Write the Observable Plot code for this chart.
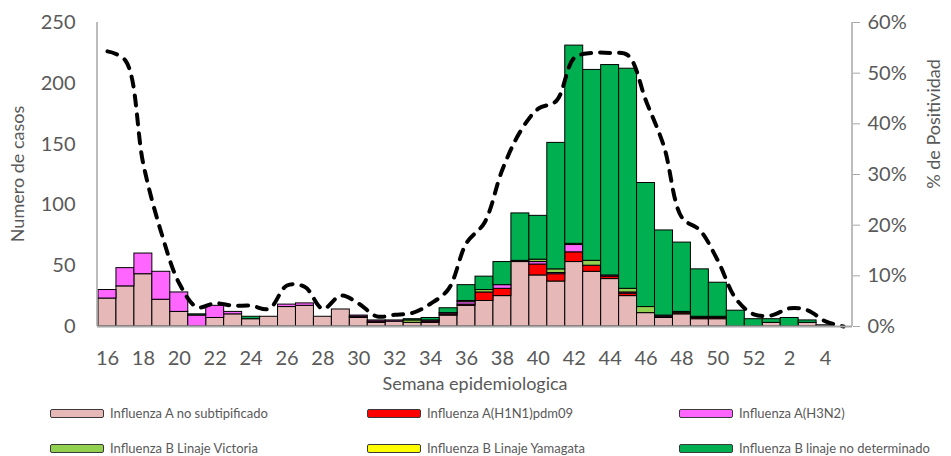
<!DOCTYPE html>
<html>
<head>
<meta charset="utf-8">
<script src="https://cdn.jsdelivr.net/npm/d3@7"></script>
<script src="https://cdn.jsdelivr.net/npm/@observablehq/plot@0.6"></script>
<style>
  body { margin: 0; background: #fff; }
  #wrap { position: relative; width: 951px; height: 456px; font-family: Lato, "Open Sans", sans-serif; }
  .leg { position: absolute; display: flex; align-items: center; font-family: "Liberation Sans Narrow", Lato, sans-serif; font-size: 13px; color: #595959; white-space: nowrap; }
  .sw { width: 52px; height: 7px; border: 1.5px solid #3a3a3a; border-radius: 2px; margin-right: 6px; }
</style>
</head>
<body>
<div id="wrap"></div>
<script>
const weeks = ["16","17","18","19","20","21","22","23","24","25","26","27","28","29","30","31","32","33","34","35","36","37","38","39","40","41","42","43","44","45","46","47","48","49","50","51","52","1","2","3","4","5"];
const xTickLabels = ["16","18","20","22","24","26","28","30","32","34","36","38","40","42","44","46","48","50","52","2","4"];
const yTicks = [0, 50, 100, 150, 200, 250];
const pctTicks = [0, 10, 20, 30, 40, 50, 60];

const seriesNames = ["Influenza A no subtipificado", "Influenza A(H1N1)pdm09", "Influenza A(H3N2)", "Influenza B Linaje Victoria", "Influenza B Linaje Yamagata", "Influenza B linaje no determinado"];
const seriesColors = ["#E6B9B8", "#FF0000", "#FF66FF", "#92D050", "#FFFF00", "#00B050"];

const aNoSubtip = [23,33,43,22,12,0,7,10,6,8,16,17,8,14,7,3,4,3,3,9,17,21,25,53,42,37,53,45,39,25,11,7,10,6,6,0,0,3,0,3,1,0];
const aH1N1     = [0,0,0,0,0,0,0,0,0,0,0,0,0,0,1,1,0,0,1,1,1,7,6,1,9,6,8,5,2,2,0,1,1,1,1,0,0,0,0,0,0,0];
const aH3N2     = [7,15,17,23,16,9,10,2,0,0,2,2,0,0,1,1,1,0,1,1,2,0,3,0,2,1,6,0,1,1,0,1,0,0,0,0,0,0,0,0,0,0];
const bVictoria = [0,0,0,0,0,0,0,0,0,0,0,0,0,0,0,0,0,2,0,0,1,2,0,0,2,3,1,4,0,3,5,0,1,1,1,0,0,0,0,0,0,0];
const bYamagata = [0,0,0,0,0,0,0,0,0,0,0,0,0,0,0,0,0,0,0,0,0,0,0,0,0,0,0,0,0,0,0,0,0,0,0,0,0,0,0,0,0,0];
const bNoDet    = [0,0,0,0,0,1,0,0,2,0,0,0,0,0,0,0,0,1,2,4,13,11,19,39,36,104,163,157,173,181,102,70,57,39,28,13,6,3,7,2,0,0];
const positividad = [54.3,52.5,32,18.5,8.5,3.8,4.6,4.1,4.1,3.5,8.1,7.8,3.5,6.1,4.5,2,2.3,2.7,4.5,7.4,16.5,20.5,31,38.5,43,44.5,53,54,54,53.5,44.5,35.5,21.5,19,13,5.5,2.4,2.2,3.6,3.2,1,0];

const seriesValues = [aNoSubtip, aH1N1, aH3N2, bVictoria, bYamagata, bNoDet];
const rows = [];
seriesNames.forEach((s, k) => weeks.forEach((w, i) => {
  if (seriesValues[k][i] > 0) rows.push({week: w, serie: s, value: seriesValues[k][i]});
}));
const lineData = weeks.map((w, i) => ({week: w, pct: positividad[i]}));
const yMax = 250, pMax = 60;
const toCases = p => p * yMax / pMax;

const chart = Plot.plot({
  width: 951, height: 395,
  marginLeft: 98, marginRight: 99, marginTop: 22, marginBottom: 69,
  style: {fontFamily: "Lato, 'Open Sans', sans-serif", fontSize: "20px", color: "#595959", background: "#fff"},
  x: {type: "band", domain: weeks, padding: 0},
  y: {domain: [0, yMax]},
  color: {domain: seriesNames, range: seriesColors},
  marks: [
    Plot.barY(rows, {x: "week", y: "value", fill: "serie", order: seriesNames, stroke: "#000", strokeWidth: 1}),
    Plot.line(lineData, {x: "week", y: d => toCases(d.pct), curve: "catmull-rom", stroke: "#000", strokeWidth: 4, strokeDasharray: "10,9", strokeLinecap: "round"}),
    Plot.axisX({ticks: xTickLabels, tickSize: 0, tickPadding: 24, label: null, fill: "#595959"}),
    Plot.axisY({anchor: "left", ticks: yTicks, tickSize: 0, tickPadding: 23, label: null, fill: "#595959"}),
    Plot.axisY({anchor: "right", ticks: pctTicks.map(toCases), tickFormat: d => Math.round(d * pMax / yMax) + "%", tickSize: 7, tickPadding: 8, stroke: "#A6A6A6", fill: "#595959", label: null})
  ]
});

const wrap = document.getElementById("wrap");
wrap.appendChild(chart);

const svg = d3.select(chart);
const ys = chart.scale("y"), xs = chart.scale("x");
const yTop = Math.min(...ys.range), yBot = Math.max(...ys.range);
const xLeft = Math.min(...xs.range), xRight = Math.max(...xs.range);
svg.append("line").attr("x1", xLeft - 1).attr("x2", xLeft - 1).attr("y1", yTop).attr("y2", yBot).attr("stroke", "#A6A6A6").attr("stroke-width", 1.5);
svg.append("line").attr("x1", xRight).attr("x2", xRight).attr("y1", yTop).attr("y2", yBot).attr("stroke", "#A6A6A6").attr("stroke-width", 1.5);
svg.append("line").attr("x1", xLeft - 1).attr("x2", xRight).attr("y1", yBot + 0.5).attr("y2", yBot + 0.5).attr("stroke", "#A6A6A6").attr("stroke-width", 2);

svg.append("text").attr("transform", `translate(19,${(yTop + yBot) / 2}) rotate(-90)`).attr("text-anchor", "middle").attr("dominant-baseline", "middle").attr("fill", "#595959").style("font-size", "18px").text("Numero de casos");
svg.append("text").attr("transform", `translate(935,124) rotate(-90)`).attr("text-anchor", "middle").attr("dominant-baseline", "middle").attr("fill", "#595959").style("font-size", "18px").text("% de Positividad");
svg.append("text").attr("x", (xLeft + xRight) / 2).attr("y", 385).attr("text-anchor", "middle").attr("dominant-baseline", "middle").attr("fill", "#595959").style("font-size", "18px").text("Semana epidemiologica");

const legPos = [[50, 413], [367, 413], [679, 413], [50, 448], [367, 448], [679, 448]];
seriesNames.forEach((s, k) => {
  const d = document.createElement("div");
  d.className = "leg";
  d.style.left = legPos[k][0] + "px";
  d.style.top = (legPos[k][1] - 8) + "px";
  d.style.height = "16px";
  d.innerHTML = `<span class="sw" style="background:${seriesColors[k]}"></span><span>${s}</span>`;
  wrap.appendChild(d);
});
</script>
</body>
</html>
